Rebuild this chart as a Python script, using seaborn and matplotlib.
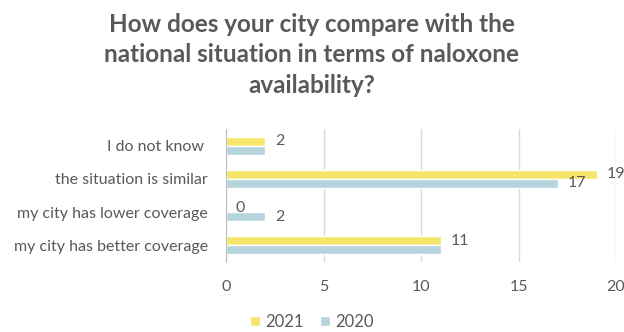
import pandas as pd
import matplotlib.pyplot as plt
import seaborn as sns
from matplotlib.patches import Patch

# Data
categories = ['I do not know ', 'the situation is similar', 'my city has lower coverage', 'my city has better coverage']
values_2021 = [2, 19, 0, 11]
values_2020 = [2, 17, 2, 11]
labels_2021 = ['2', '19', '0', '11']
labels_2020 = ['', '17', '2', '']
years = ['2021', '2020']
colors = {'2021': '#F5E56B', '2020': '#B5D4DD'}

df = pd.DataFrame({
    'answer': categories * 2,
    'count': values_2021 + values_2020,
    'year': ['2021'] * 4 + ['2020'] * 4,
})

sns.set_style('white')
plt.rcParams['font.family'] = ['Lato', 'DejaVu Sans']
grey = '#595959'

fig = plt.figure(figsize=(6.24, 3.32), dpi=100)
ax = fig.add_axes([226 / 624, 1 - 262 / 332, 390 / 624, 133 / 332])

sns.barplot(data=df, x='count', y='answer', hue='year', hue_order=years,
            palette=colors, orient='h', width=0.54, saturation=1,
            legend=False, ax=ax)

# Data labels
ax.bar_label(ax.containers[0], labels=labels_2021, padding=7, fontsize=11.5, color=grey)
ax.bar_label(ax.containers[1], labels=labels_2020, padding=7, fontsize=11.5, color=grey)

# Axes styling
ax.set_xlim(0, 20)
ax.set_xticks([0, 5, 10, 15, 20])
ax.grid(axis='x', color='#D9D9D9', linewidth=1)
ax.set_axisbelow(True)
for side in ['top', 'right', 'bottom']:
    ax.spines[side].set_visible(False)
ax.spines['left'].set_color('#BFBFBF')
ax.tick_params(axis='x', length=0, pad=13, labelsize=11.5, labelcolor=grey)
ax.tick_params(axis='y', length=0, pad=13, labelsize=11.5, labelcolor=grey)
ax.set_xlabel('')
ax.set_ylabel('')

# Title
fig.text(0.5, 1 - 55 / 332, 'How does your city compare with the\nnational situation in terms of naloxone\navailability?',
         ha='center', va='center', fontsize=17.5, fontweight='bold', color=grey, linespacing=1.38)

# Legend
handles = [Patch(facecolor=colors[y], label=y) for y in years]
fig.legend(handles=handles, loc='center', bbox_to_anchor=(0.5, 1 - 322 / 332), ncol=2,
           frameon=False, fontsize=12, labelcolor=grey, handlelength=0.6, handleheight=0.6,
           handletextpad=0.3, columnspacing=1.0)

fig.savefig('out.png', dpi=100)
